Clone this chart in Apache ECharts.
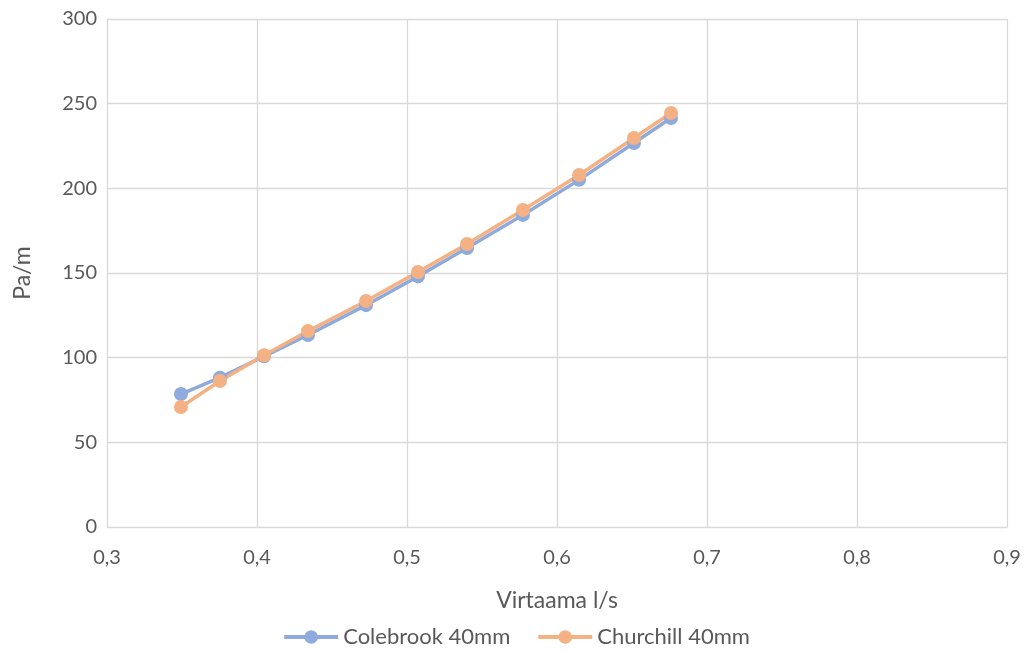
<!DOCTYPE html>
<html>
<head>
<meta charset="utf-8">
<script src="https://cdn.jsdelivr.net/npm/echarts@6/dist/echarts.min.js"></script>
<style>
  html, body { margin: 0; padding: 0; background: #fff; }
  #chart { width: 1032px; height: 652px; }
</style>
</head>
<body>
<div id="chart"></div>
<script>
// Flow rate (l/s) and pressure loss (Pa/m) for a 40 mm pipe
const flow = [0.3493, 0.3753, 0.4047, 0.434, 0.4727, 0.5073, 0.54, 0.5773, 0.6147, 0.6513, 0.676];
const colebrook = [78.5, 88.2, 100.8, 113.4, 131.0, 148.0, 164.8, 184.3, 205.0, 226.8, 241.5];
const churchill = [70.9, 86.2, 101.4, 115.7, 133.5, 150.6, 167.1, 187.2, 207.9, 229.7, 244.5];
const seriesNames = ['Colebrook 40mm', 'Churchill 40mm'];

const font = 'Lato, "Open Sans", sans-serif';
const textColor = '#595959';
const gridColor = '#d9d9d9';

function pairs(xs, ys) { return xs.map((x, i) => [x, ys[i]]); }

const chart = echarts.init(document.getElementById('chart'));
chart.setOption({
  animation: false,
  textStyle: { fontFamily: font, color: textColor },
  grid: { left: 107, right: 25, top: 19, bottom: 125 },
  legend: {
    bottom: -1,
    left: 'center',
    itemWidth: 54,
    itemHeight: 17,
    itemGap: 26,
    lineStyle: { width: 4 },
    textStyle: { fontSize: 22, color: textColor, fontFamily: font },
    data: seriesNames
  },
  xAxis: {
    type: 'value', min: 0.3, max: 0.9, interval: 0.1,
    name: 'Virtaama l/s', nameLocation: 'middle', nameGap: 62,
    nameTextStyle: { fontSize: 23, color: textColor, fontFamily: font },
    axisLine: { lineStyle: { color: gridColor, width: 1 } },
    axisTick: { show: false },
    axisLabel: { fontSize: 20, color: textColor, margin: 21,
      formatter: v => v.toFixed(1).replace('.', ',') },
    splitLine: { lineStyle: { color: gridColor, width: 1.3 } }
  },
  yAxis: {
    type: 'value', min: 0, max: 300, interval: 50,
    name: 'Pa/m', nameLocation: 'middle', nameGap: 73,
    nameTextStyle: { fontSize: 23, color: textColor, fontFamily: font },
    axisLine: { show: true, lineStyle: { color: gridColor, width: 1 } },
    axisTick: { show: false },
    axisLabel: { fontSize: 20, color: textColor, margin: 10 },
    splitLine: { lineStyle: { color: gridColor, width: 1.3 } }
  },
  series: [
    {
      name: seriesNames[0], type: 'line', data: pairs(flow, colebrook),
      symbol: 'circle', symbolSize: 14,
      lineStyle: { color: '#8faadc', width: 3.5 },
      itemStyle: { color: '#8faadc' }
    },
    {
      name: seriesNames[1], type: 'line', data: pairs(flow, churchill),
      symbol: 'circle', symbolSize: 14,
      lineStyle: { color: '#f4b183', width: 3.5 },
      itemStyle: { color: '#f4b183' }
    }
  ]
});
</script>
</body>
</html>
